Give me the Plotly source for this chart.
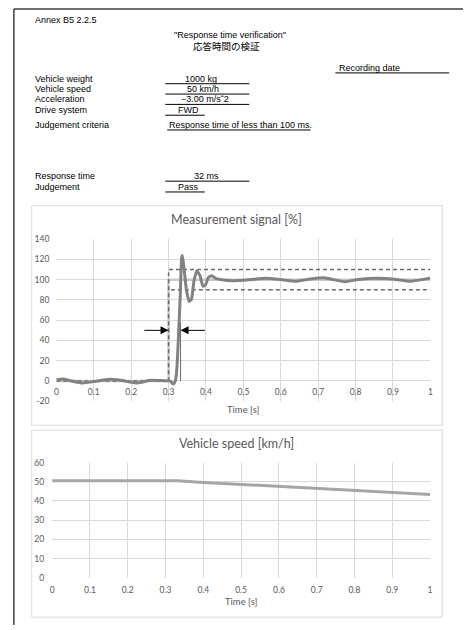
import plotly.graph_objects as go

W, H = 466, 630

# ---- report header ----
header_labels = ["Vehicle weight", "Vehicle speed", "Acceleration", "Drive system"]
header_values = ["1000 kg", "50 km/h", "\u22123.00 m/s\u02c62", "FWD"]
criteria_text = "Response time of less than 100 ms."
response_ms = 32
judgement = "Pass"

# ---- measurement signal [%] ----
signal_t = [0, 0.018, 0.04, 0.071, 0.1, 0.141, 0.172, 0.216, 0.251, 0.287, 0.304, 0.312,
            0.318, 0.322, 0.326, 0.331, 0.335, 0.337, 0.342, 0.348, 0.355, 0.361, 0.368,
            0.375, 0.384, 0.392, 0.399, 0.406, 0.415, 0.428, 0.442, 0.472, 0.516, 0.56,
            0.604, 0.639, 0.675, 0.719, 0.736, 0.772, 0.807, 0.86, 0.904, 0.948, 1.0]
signal_v = [1.3, 2, 0, -2, -0.6, 1.6, 0.6, -2, 0.6, 0.3, 0, -3,
            0, 11.6, 40.8, 82.8, 121.7, 124, 108.7, 89, 78.5, 80.5, 99,
            108.7, 104, 93.5, 95, 102, 104, 101, 100, 99, 100, 101.5,
            100, 98.5, 100.5, 101.8, 100.5, 98, 100.3, 101.5, 100.5, 98.6, 101.6]

# command step and tolerance band
step_t = [0, 0.3, 0.3, 1]
step_v = [0, 0, 100, 100]
upper_t = [0, 0.3, 0.3, 1]
upper_v = [0, 0, 110, 110]
lower_t = [0.306, 1]
lower_v = [90, 90]
step_time = 0.3
arrow_level = 50

# ---- vehicle speed [km/h] ----
speed_t = [0, 0.1, 0.2, 0.3, 0.33, 0.4, 0.5, 0.6, 0.7, 0.8, 0.9, 1.0]
speed_v = [50.6, 50.6, 50.6, 50.6, 50.5, 49.7, 48.7, 47.7, 46.6, 45.6, 44.6, 43.4]

time_ticks = [0, 0.1, 0.2, 0.3, 0.4, 0.5, 0.6, 0.7, 0.8, 0.9, 1]
time_ticktext = ["0", "0.1", "0.2", "0.3", "0.4", "0.5", "0.6", "0.7", "0.8", "0.9", "1"]
sig_ticks = [-20, 0, 20, 40, 60, 80, 100, 120, 140]
speed_ticks = [0, 10, 20, 30, 40, 50, 60]


def px(x):
    return x / W


def py(y):
    return 1 - y / H


HDR_FONT = "Liberation Sans, Arial, Noto Sans CJK JP, sans-serif"
JP_FONT = "Noto Sans CJK JP, sans-serif"
CH_FONT = "Lato, Carlito, Calibri, sans-serif"
GRID = "#d9d9d9"
TXT = "#595959"

fig = go.Figure()

resp_t = step_time + response_ms / 1000.0

# signal chart traces
fig.add_trace(go.Scatter(x=step_t, y=step_v, mode="lines",
                         line=dict(color="#c8c8c8", width=2.5), xaxis="x", yaxis="y",
                         hoverinfo="skip"))
fig.add_trace(go.Scatter(x=upper_t, y=upper_v, mode="lines",
                         line=dict(color="#6b6b6b", width=1.5, dash="4px,3px"),
                         xaxis="x", yaxis="y"))
fig.add_trace(go.Scatter(x=lower_t, y=lower_v, mode="lines",
                         line=dict(color="#6b6b6b", width=1.5, dash="4px,3px"),
                         xaxis="x", yaxis="y"))
fig.add_trace(go.Scatter(x=signal_t, y=signal_v, mode="lines",
                         line=dict(color="#828282", width=3, shape="spline", smoothing=0.5),
                         xaxis="x", yaxis="y"))
fig.add_trace(go.Scatter(x=[resp_t, resp_t], y=[0, 58], mode="lines",
                         line=dict(color="#6b6b6b", width=1), xaxis="x", yaxis="y"))

# speed chart trace
fig.add_trace(go.Scatter(x=speed_t, y=speed_v, mode="lines",
                         line=dict(color="#a6a6a6", width=3), xaxis="x2", yaxis="y2"))

axis_common = dict(showgrid=True, gridcolor=GRID, gridwidth=1, zeroline=False,
                   showline=False, ticks="", fixedrange=True,
                   tickfont=dict(family=CH_FONT, size=8.5, color=TXT))

fig.update_layout(
    width=W, height=H,
    margin=dict(l=0, r=0, t=0, b=0),
    paper_bgcolor="white", plot_bgcolor="white",
    showlegend=False,
    xaxis=dict(domain=[px(55), px(433)], range=[0, 1], tickvals=time_ticks,
               ticktext=time_ticktext, anchor="free", position=py(382),
               ticklabelstandoff=5, **axis_common),
    yaxis=dict(domain=[py(402.6), py(238)], range=[-20, 140], tickvals=sig_ticks,
               ticktext=[str(v) for v in sig_ticks], anchor="x",
               ticklabelstandoff=6, **axis_common),
    xaxis2=dict(domain=[px(50.7), px(432.7)], range=[0, 1], tickvals=time_ticks,
                ticktext=time_ticktext, anchor="y2", ticklabelstandoff=6, **axis_common),
    yaxis2=dict(domain=[py(582), py(465)], range=[0, 60], tickvals=speed_ticks,
                ticktext=[str(v) for v in speed_ticks], anchor="x2",
                ticklabelstandoff=7, **axis_common),
)

shapes = []
annotations = []


def text(x, y, s, size=9, anchor="left", font=HDR_FONT, color="black"):
    annotations.append(dict(x=px(x), y=py(y), xref="paper", yref="paper", text=s,
                            showarrow=False, xanchor=anchor, yanchor="middle",
                            font=dict(family=font, size=size, color=color)))


def uline(x0, x1, y, color="black", width=1):
    shapes.append(dict(type="line", xref="paper", yref="paper", x0=px(x0), x1=px(x1),
                       y0=py(y), y1=py(y), line=dict(color=color, width=width)))


# page frame
uline(12, 466, 4, color="#404040", width=1.5)
shapes.append(dict(type="line", xref="paper", yref="paper", x0=px(12), x1=px(12),
                   y0=py(4), y1=0, line=dict(color="#404040", width=1.5)))

# header
text(31, 15, "Annex B5 2.2.5")
text(230, 30.5, "\"Response time verification\"", anchor="center")
text(227, 41.5, "応答時間の検証", anchor="center", size=9.5, font=JP_FONT)
text(339, 64, "Recording date")
uline(337, 452, 69)

row_y = [75, 85.5, 96, 106.5]
ul_y = [80, 90.5, 101, 112]
val_x = [201, 203, 205, 176]
ul_x1 = [250, 250, 250, 205]
for lab, val, ry, uy, vx, ux in zip(header_labels, header_values, row_y, ul_y, val_x, ul_x1):
    text(31, ry, lab)
    if lab == "Drive system":
        text(vx, ry, val)
    else:
        text(vx, ry, val, anchor="center")
    uline(165, ux, uy)

text(31, 121.5, "Judgement criteria")
text(167, 121.5, criteria_text)
uline(167, 312, 127)

text(31, 174, "Response time")
text(207, 174, f"{response_ms} ms", anchor="center")
uline(165, 250, 179)
text(31, 184.5, "Judgement")
text(176, 184.5, judgement)
uline(165, 205, 190)

# chart frames
for y0, y1 in [(204, 427), (432, 622)]:
    shapes.append(dict(type="rect", xref="paper", yref="paper", x0=px(30), x1=px(445),
                       y0=py(y1), y1=py(y0), line=dict(color=GRID, width=1)))

# chart titles
text(237, 218, "Measurement signal [%]", size=12.5, anchor="center", font=CH_FONT, color=TXT)
text(244, 411, "Time [s]", size=9.5, anchor="center", font=CH_FONT, color=TXT)
text(237, 446, "Vehicle speed [km/h]", size=12.5, anchor="center", font=CH_FONT, color=TXT)
text(242, 606, "Time [s]", size=9.5, anchor="center", font=CH_FONT, color=TXT)

# response time arrows
for head, tail in [(step_time, 0.231), (resp_t, 0.401)]:
    annotations.append(dict(x=head, y=arrow_level, ax=tail, ay=arrow_level,
                            xref="x", yref="y", axref="x", ayref="y", text="",
                            showarrow=True, arrowhead=2, arrowsize=1.6, arrowwidth=1,
                            arrowcolor="black", standoff=0))

fig.update_layout(shapes=shapes, annotations=annotations)

fig.write_html("out.html")
